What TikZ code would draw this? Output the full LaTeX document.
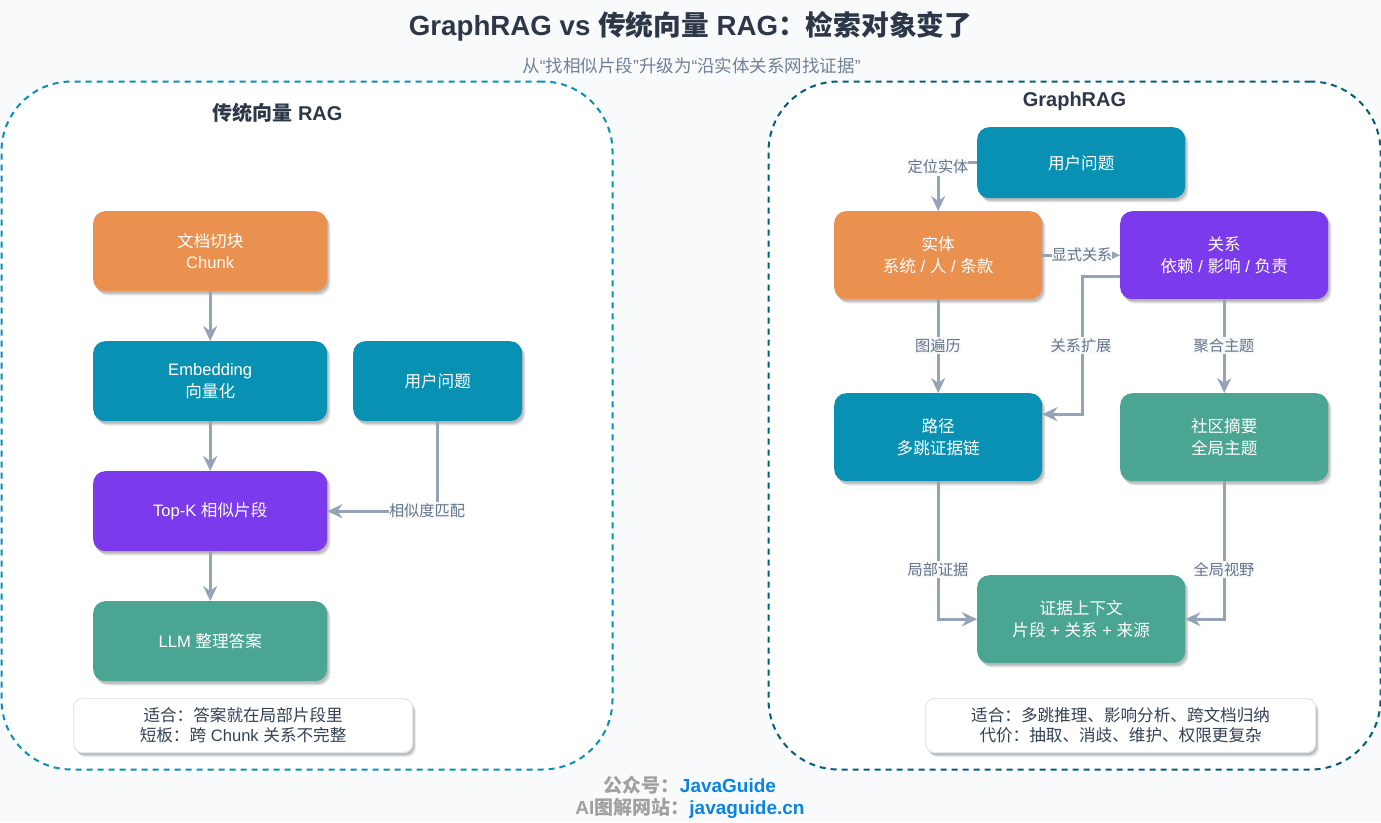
\documentclass[tikz,border=0pt]{standalone}
\usepackage{fontspec}
\setmainfont{Liberation Sans}
\newfontfamily\cjk{Noto Sans CJK SC}
\newcommand{\C}[1]{{\cjk #1}}
\usetikzlibrary{arrows.meta,shadows,calc}
\definecolor{bgc}{HTML}{F8FAFC}
\definecolor{edgec}{HTML}{94A3B8}
\definecolor{labc}{HTML}{64748B}
\definecolor{titc}{HTML}{2D3748}
\definecolor{subc}{HTML}{718096}
\definecolor{tealc}{HTML}{0891B2}
\definecolor{navyc}{HTML}{045F7D}
\definecolor{orangec}{HTML}{EA9150}
\definecolor{purplec}{HTML}{7C3AED}
\definecolor{greenc}{HTML}{4BA593}
\definecolor{notec}{HTML}{334155}
\definecolor{notee}{HTML}{E2E8F0}
\definecolor{footg}{HTML}{A0A0A0}
\definecolor{footb}{HTML}{0984E3}
\tikzset{
  softshadow/.style={
    drop shadow={shadow xshift=3.5pt,shadow yshift=-4.5pt,opacity=.07,fill=black},
    drop shadow={shadow xshift=2.5pt,shadow yshift=-3.5pt,opacity=.09,fill=black},
    drop shadow={shadow xshift=1.5pt,shadow yshift=-2.5pt,opacity=.12,fill=black}},
  panel/.style={draw,fill=white,line width=2pt,dash pattern=on 6pt off 5pt,rounded corners=70pt,anchor=north west,inner sep=0pt},
  flowbox/.style={rounded corners=12pt,anchor=north west,inner sep=0pt,text=white,align=center,
    font=\fontsize{16.6}{21.5}\selectfont,softshadow},
  notebox/.style={rounded corners=9pt,anchor=north west,inner sep=0pt,fill=white,draw=notee,line width=1.2pt,
    text=notec,align=center,font=\fontsize{16.6}{20}\selectfont,softshadow},
  conn/.style={draw=edgec,line width=3pt,-{Stealth[length=15pt,width=14pt,inset=5pt]}},
  lab/.style={fill=bgc,text=labc,inner xsep=0pt,inner ysep=1.5pt,font=\fontsize{15.2}{18}\selectfont},
  head/.style={text=titc,font=\fontsize{20}{24}\selectfont\bfseries},
}
\begin{document}
\begin{tikzpicture}[x=1pt,y=-1pt]
\path[use as bounding box,fill=bgc] (0,0) rectangle (1381,822);
\node[text=titc,font=\fontsize{27.7}{32}\selectfont\bfseries] (title) at (690.5,26.5) {GraphRAG vs \C{传统向量} RAG\C{：检索对象变了}};
\node[text=subc,font=\fontsize{17.5}{20}\selectfont] (subtitle) at (691.5,66) {\C{从}“\C{找相似片段}”\C{升级为}“\C{沿实体关系网找证据}”};

\node[panel,draw=tealc,minimum width=611pt,minimum height=688pt] (pl) at (0.5,80.5) {};
\node[panel,draw=navyc,minimum width=612pt,minimum height=688pt] (pr) at (767.5,80.5) {};
\node[head] (hl) at (277.5,113) {\C{传统向量} RAG};
\node[head] (hr) at (1074.5,101) {GraphRAG};

% left
\node[flowbox,fill=orangec,minimum width=234pt,minimum height=80pt] (chunk) at (93,211) {\C{文档切块}\\Chunk};
\node[flowbox,fill=tealc,minimum width=234pt,minimum height=80pt] (emb) at (93,341) {Embedding\\\C{向量化}};
\node[flowbox,fill=tealc,minimum width=169pt,minimum height=80pt] (ql) at (353,341) {\C{用户问题}};
\node[flowbox,fill=purplec,minimum width=234pt,minimum height=80pt] (topk) at (93,471) {Top-K \C{相似片段}};
\node[flowbox,fill=greenc,minimum width=234pt,minimum height=80pt] (llm) at (93,601) {LLM \C{整理答案}};
\node[notebox,minimum width=339pt,minimum height=54pt] (nl) at (73,698) {\C{适合：答案就在局部片段里}\\\C{短板：跨} Chunk \C{关系不完整}};

% right
\node[flowbox,fill=tealc,minimum width=208pt,minimum height=71pt] (qr) at (977,127) {\C{用户问题}};
\node[flowbox,fill=orangec,minimum width=208pt,minimum height=88pt] (ent) at (834,211) {\C{实体}\\\C{系统} / \C{人} / \C{条款}};
\node[flowbox,fill=purplec,minimum width=208pt,minimum height=88pt] (rel) at (1120,211) {\C{关系}\\\C{依赖} / \C{影响} / \C{负责}};
\node[flowbox,fill=tealc,minimum width=208pt,minimum height=88pt] (pth) at (834,393) {\C{路径}\\\C{多跳证据链}};
\node[flowbox,fill=greenc,minimum width=208pt,minimum height=88pt] (com) at (1120,393) {\C{社区摘要}\\\C{全局主题}};
\node[flowbox,fill=greenc,minimum width=208pt,minimum height=88pt] (evi) at (977,575) {\C{证据上下文}\\\C{片段} + \C{关系} + \C{来源}};
\node[notebox,minimum width=390pt,minimum height=54pt] (nr) at (925,698) {\C{适合：多跳推理、影响分析、跨文档归纳}\\\C{代价：抽取、消歧、维护、权限更复杂}};

% connectors left
\draw[conn] (chunk) -- (emb);
\draw[conn] (emb) -- (topk);
\draw[conn] (topk) -- (llm);
\draw[conn] (ql.south) |- (topk.east);
\node[lab] (l1) at (427,510.5) {\C{相似度匹配}};

% connectors right
\draw[conn] (qr.west) -| (ent.north);
\draw[conn] (ent.east) -- (rel.west);
\draw[conn] ([yshift=-21pt]rel.west) -- ++(-38,0) |- ([yshift=23pt]pth.east);
\draw[conn] (ent.south) -- (pth.north);
\draw[conn] (rel.south) -- (com.north);
\draw[conn] (pth.south) |- (evi.west);
\draw[conn] (com.south) |- (evi.east);
\node[lab] (l2) at (938,167) {\C{定位实体}};
\node[lab] (l3) at (1082,255) {\C{显式关系}};
\node[lab] (l4) at (1081,345.5) {\C{关系扩展}};
\node[lab] (l5) at (938,345.5) {\C{图遍历}};
\node[lab] (l6) at (1224,345.5) {\C{聚合主题}};
\node[lab] (l7) at (938,569.5) {\C{局部证据}};
\node[lab] (l8) at (1224,569.5) {\C{全局视野}};

% footer
\node[font=\fontsize{19}{22}\selectfont\bfseries,text=footg] (f1) at (690,785.5) {\C{公众号：}\textcolor{footb}{JavaGuide}};
\node[font=\fontsize{19}{22}\selectfont\bfseries,text=footg] (f2) at (690,808.5) {AI\C{图解网站：}\textcolor{footb}{javaguide.cn}};
\end{tikzpicture}
\end{document}
